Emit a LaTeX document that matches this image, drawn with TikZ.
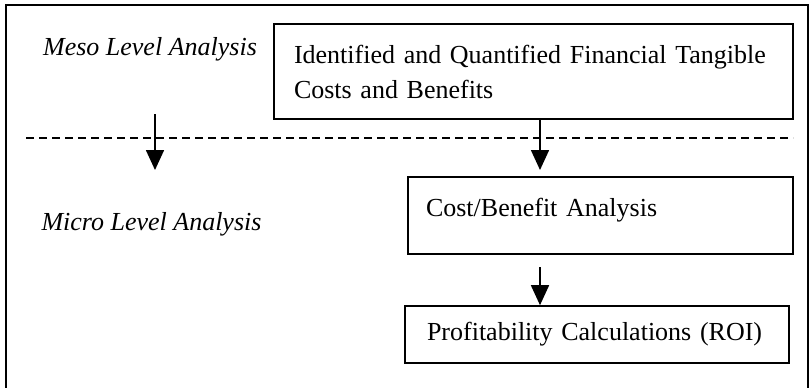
\documentclass[tikz,border=0pt]{standalone}
\usepackage{fontspec}
\setmainfont{Liberation Serif}
\usetikzlibrary{arrows.meta}
\tikzset{
  stagebox/.style={draw, rectangle, line width=0.8pt, align=left, inner ysep=0pt,
    font=\fontsize{13}{17.5}\selectfont},
  levellabel/.style={inner sep=0pt, font=\fontsize{13}{14}\selectfont\itshape},
  flow/.style={-{Triangle[length=10pt,width=9pt]}, line width=0.8pt}
}
\begin{document}
\begin{tikzpicture}[x=0.5pt,y=-0.5pt]
      \useasboundingbox (0,0) rectangle (812,387);
      \draw[line width=0.8pt] (6,400) |- (808,5) -- (808,400);
      \draw
        (150,49) node[levellabel] (meso){Meso Level Analysis}
        (151.5,224) node[levellabel] (micro){Micro Level Analysis};
      \draw
        (533.5,71.5) node[stagebox, inner xsep=10pt, text width=239.5pt, minimum height=47.5pt]
          (costs){Identified and Quantified Financial Tangible\\Costs and Benefits}
        (600.5,215.5) node[stagebox, inner xsep=9pt, text width=174.5pt, text height=19.9pt, text depth=18.6pt]
          (cba){Cost/Benefit Analysis}
        (597,334.5) node[stagebox, inner xsep=11pt, text width=170pt, minimum height=28.5pt]
          (roi){Profitability Calculations (ROI)};
      \coordinate (leftstart) at (155,114);
      \coordinate (lefttip) at (155,170);
      \coordinate (midtip) at (540,170);
      \coordinate (lowstart) at (540,267);
      \draw[dash pattern=on 4pt off 2.5pt, line width=0.8pt] (26,138) -- (793,138);
      \begin{scope}[flow]
        \draw (leftstart) to (lefttip);
        \draw (costs.south -| midtip) to (midtip);
        \draw (lowstart) to (roi.north -| lowstart);
      \end{scope}
    \end{tikzpicture}
\end{document}
